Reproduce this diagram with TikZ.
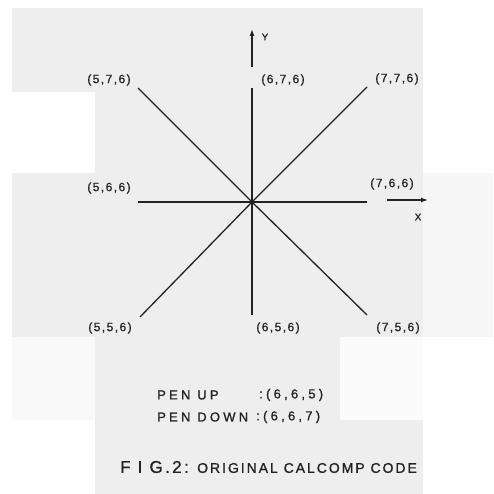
\documentclass[tikz,border=0pt]{standalone}
\usepackage{fontspec}
\setmainfont{Liberation Sans}
\newfontfamily\labfont[LetterSpace=12,FakeBold=1]{Liberation Sans}
\newfontfamily\penfont[LetterSpace=25,FakeBold=1]{Liberation Sans}
\newfontfamily\figfont[LetterSpace=14,FakeBold=1]{Liberation Sans}
\newfontfamily\bigfigfont[LetterSpace=14,FakeBold=1]{Liberation Sans}
\usetikzlibrary{arrows.meta}
\definecolor{bggray}{HTML}{EEEEEE}
\definecolor{paleA}{HTML}{F7F7F7}
\definecolor{paleB}{HTML}{F9F9F9}
\definecolor{paleC}{HTML}{FBFBFB}
\definecolor{ink}{HTML}{222222}
\tikzset{
  ray/.style={draw=ink, line width=1.3pt},
  axis/.style={draw=ink, line width=1.3pt, -{Latex[length=7pt,width=5pt]}},
  coordlab/.style={inner sep=1pt, text=ink, font=\labfont\fontsize{12}{14}\selectfont},
  axlab/.style={inner sep=0pt, text=ink, font=\labfont\fontsize{10}{12}\selectfont},
  penlab/.style={inner sep=0pt, anchor=west, text=ink, font=\penfont\fontsize{13}{15}\selectfont},
}
\begin{document}
\begin{tikzpicture}[x=1pt,y=-1pt]
\useasboundingbox (0,0) rectangle (493,494);
\fill[white] (0,0) rectangle (493,494);
% scanned paper patches
\fill[bggray] (12,8) rectangle (423,92);
\fill[bggray] (95,92) rectangle (423,173);
\fill[bggray] (12,173) rectangle (423,337);
\fill[paleA] (423,173) rectangle (493,337);
\fill[paleB] (12,337) rectangle (95,420);
\fill[bggray] (95,337) rectangle (340,420);
\fill[paleC] (340,337) rectangle (423,420);
\fill[bggray] (95,420) rectangle (423,494);

% points
\coordinate (c) at (252,202);
\coordinate (ul) at (138,88);
\coordinate (u) at (252,88);
\coordinate (ur) at (367,87);
\coordinate (l) at (138,202);
\coordinate (r) at (367,202);
\coordinate (dl) at (140,317);
\coordinate (d) at (252,315);
\coordinate (dr) at (367,315);
\coordinate (ys) at (252,67);
\coordinate (ye) at (252,29);
\coordinate (xs) at (387,200);
\coordinate (xe) at (428,200);

\draw[ray] (ul) -- (c);
\draw[ray] (u) -- (c);
\draw[ray] (ur) -- (c);
\draw[ray] (l) -- (c);
\draw[ray] (r) -- (c);
\draw[ray] (dl) -- (c);
\draw[ray] (d) -- (c);
\draw[ray] (dr) -- (c);
\fill[ink] (c) circle (2pt);

\draw[axis] (ys) -- (ye);
\draw[axis] (xs) -- (xe);
\node[axlab] (ylab) at (265,37) {Y};
\node[axlab] (xlab) at (418,217) {X};

\node[coordlab] (n576) at (109,80) {(5,7,6)};
\node[coordlab] (n676) at (283,80) {(6,7,6)};
\node[coordlab] (n776) at (397,79) {(7,7,6)};
\node[coordlab] (n566) at (109,188) {(5,6,6)};
\node[coordlab] (n766) at (392,184) {(7,6,6)};
\node[coordlab] (n556) at (110,328) {(5,5,6)};
\node[coordlab] (n656) at (278,328) {(6,5,6)};
\node[coordlab] (n756) at (398,328) {(7,5,6)};

\node[penlab] (pu) at (157,395) {PEN UP};
\node[penlab] (puv) at (259,395) {:(6,6,5)};
\node[penlab] (pd) at (157,417) {PEN DOWN};
\node[penlab] (pdv) at (256,417) {:(6,6,7)};

\node[inner sep=0pt, anchor=west, text=ink, font=\bigfigfont\fontsize{17}{19}\selectfont] (fig) at (120,467) {F I G.2:};
\node[inner sep=0pt, anchor=west, text=ink, font=\figfont\fontsize{14}{16}\selectfont] (cap) at (197,468) {ORIGINAL CALCOMP CODE};
\end{tikzpicture}
\end{document}
